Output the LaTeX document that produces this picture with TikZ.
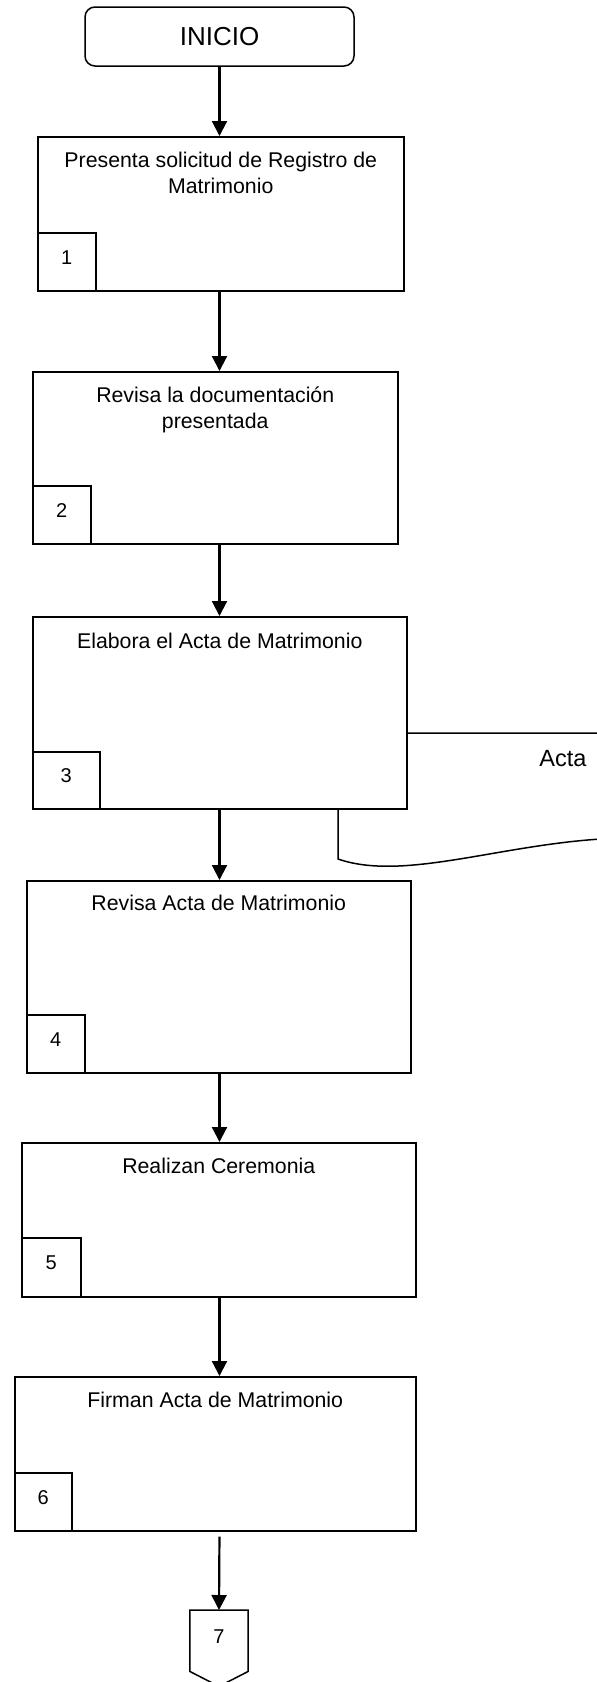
\documentclass[tikz,border=0pt]{standalone}
\usepackage{fontspec}
\setmainfont{Liberation Sans}
\usepackage{xcolor}
\usepackage{tikz}
\usetikzlibrary{
    arrows.meta,
    positioning,
    calc
}

\tikzset{
    stepbox/.style={draw, line width=1.5pt, fill=white, inner sep=0pt, anchor=north west},
    numbox/.style={draw, line width=1.5pt, fill=white, inner sep=0pt, anchor=south west, text depth=9pt,
        minimum width=58pt, minimum height=58pt, font=\fontsize{20}{24}\selectfont},
    steptext/.style={font=\fontsize{21.3}{26}\selectfont, align=center, inner sep=0pt, anchor=north},
    flow/.style={line width=2.2pt, -{Triangle[length=15pt, width=15pt]}}
}

\begin{document}
\begin{tikzpicture}[x=1pt, y=-1pt]
        \useasboundingbox (0,0) rectangle (597,1682);

        % Inicio
        \node[draw, line width=1.5pt, rounded corners=10pt, minimum width=269pt, minimum height=59pt,
            inner sep=0pt, font=\fontsize{26}{30}\selectfont] (ini) at (219.5,36.5) {INICIO};

        % Documento (detras del paso 3)
        \draw[line width=1.5pt, fill=white] (640,733) -- (338,733) -- (338,859)
            .. controls (410,884) and (520,836) .. (640,838) -- cycle;
        \node[font=\fontsize{23.5}{28}\selectfont] (acta) at (563,759) {Acta};

        % Pasos
        \node[stepbox, minimum width=366pt, minimum height=154pt] (b1) at (37,136) {};
        \node[steptext] (t1) at ([yshift=-15.5pt]b1.north) {Presenta solicitud de Registro de\\Matrimonio};
        \node[numbox] (n1) at (b1.south west) {1};

        \node[stepbox, minimum width=365pt, minimum height=172pt] (b2) at (32,371) {};
        \node[steptext] (t2) at ([yshift=-15.5pt]b2.north) {Revisa la documentación\\presentada};
        \node[numbox] (n2) at (b2.south west) {2};

        \node[stepbox, minimum width=374pt, minimum height=192pt] (b3) at (32,616) {};
        \node[steptext] (t3) at ([yshift=-16.5pt]b3.north) {Elabora el Acta de Matrimonio};
        \node[numbox, minimum width=67pt, minimum height=57pt] (n3) at (b3.south west) {3};

        \node[stepbox, minimum width=384pt, minimum height=192pt] (b4) at (26,880) {};
        \node[steptext] (t4) at ([yshift=-14.5pt]b4.north) {Revisa Acta de Matrimonio};
        \node[numbox] (n4) at (b4.south west) {4};

        \node[stepbox, minimum width=394pt, minimum height=154pt] (b5) at (21,1142) {};
        \node[steptext] (t5) at ([yshift=-15.5pt]b5.north) {Realizan Ceremonia};
        \node[numbox, minimum width=59pt, minimum height=59pt] (n5) at (b5.south west) {5};

        \node[stepbox, minimum width=401pt, minimum height=154pt] (b6) at (14,1376) {};
        \node[steptext] (t6) at ([yshift=-15.5pt]b6.north) {Firman Acta de Matrimonio};
        \node[numbox, minimum width=57pt] (n6) at (b6.south west) {6};

        % Conector de pagina
        \node[inner sep=0pt, minimum width=58pt, minimum height=61pt, anchor=north, text depth=9pt,
            font=\fontsize{20}{24}\selectfont] (p7) at (219,1610) {7};
        \draw[line width=1.5pt] (p7.north west) -- (p7.north east) -- (p7.south east)
            -- ($(p7.south)+(0,15)$) -- (p7.south west) -- cycle;

        % Flechas
        \draw[flow] (ini.south) -- (b1.north -| ini);
        \draw[flow] (b1.south -| ini) -- (b2.north -| ini);
        \draw[flow] (b2.south -| ini) -- (b3.north -| ini);
        \draw[flow] (b3.south -| ini) -- (b4.north -| ini);
        \draw[flow] (b4.south -| ini) -- (b5.north -| ini);
        \draw[flow] (b5.south -| ini) -- (b6.north -| ini);
        \draw[flow, shorten <=5pt] (b6.south -| ini) -- (p7.north);
    \end{tikzpicture}
\end{document}
